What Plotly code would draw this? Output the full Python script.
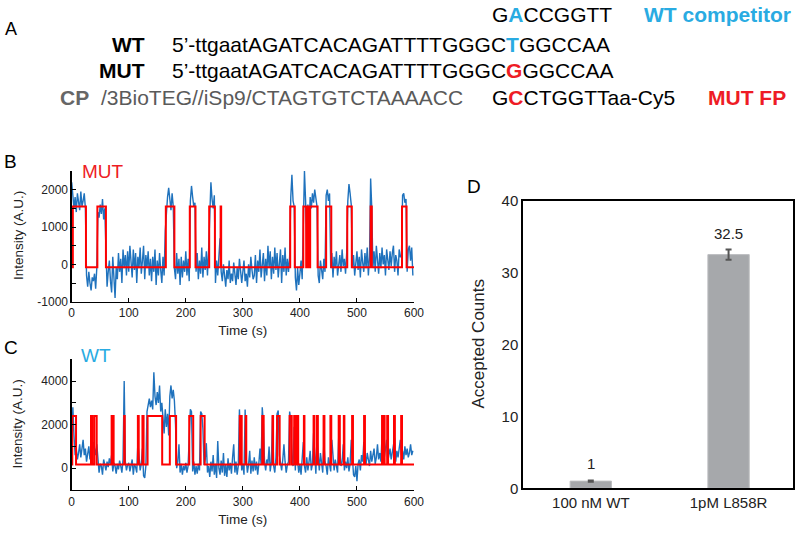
import plotly.graph_objects as go

# ---------------- data ----------------
FRAME_STEP_S = 2.0

mut_signal = [
    2200, 1700, 1500, 1800, 1400, 1900, 1600, 1450, 1950, 1550,
    1700, 1900, 1500, -300, -600, -200, -500, -700, -350, -450,
    -250, -650, -100, 1400, 1250, 1600, 1350, 1750, 1200, 1500,
    400, -600, -200, 100, -450, -750, 200, -300, -900, -100,
    -400, 300, -200, 150, -500, 400, -100, 250, -300, 350,
    -200, 500, 50, -350, 400, -150, 300, -500, 200, -100,
    450, -250, 100, 500, -400, 250, -100, 350, -300, 150,
    -450, 200, -200, 400, -550, 100, -300, 300, -150, -500,
    200, -300, 900, 1500, 1800, 2050, 1700, 1450, 1900, 1550,
    -100, -400, 300, -250, 150, -550, 200, -350, 100, -200,
    350, -300, 150, -450, 1700, 2100, 1800, 1550, 1650, -200,
    300, -400, 100, -250, 450, -350, 200, -150, 350, -300,
    400, 1600, 2200, 1750, 1500, 1850, -500, 100, -300, 200,
    700, -200, -450, 0, -350, -600, -150, -400, 100, -500,
    -250, -450, 50, -350, -550, -100, -400, 150, -300, -500,
    -200, 100, -450, -250, -600, 0, -350, 200, -150, -400,
    -300, 250, -500, 100, -200, 400, -350, 50, 300, -450,
    150, -300, 500, -100, 350, -400, 200, -250, 450, -150,
    300, -350, 100, 400, -500, 250, -200, 450, -300, 150,
    -200, 200, 1800, 2400, 1700, 1550, -350, -700, -100, -550,
    -250, 100, -400, 1400, 2500, 1700, 400, 1600, 900, 1800,
    1500, 1900, 1650, 2000, 1750, 1550, -300, -500, 100, -250,
    -400, 150, -200, 1850, 2000, 1700, 1900, -100, 300, -350,
    200, -100, 350, -300, 100, 250, -200, 400, -50, 150,
    -250, 300, 1700, 2150, 1900, 1600, -100, 250, -300, 100,
    350, -150, 200, -350, 400, 50, -200, 300, -100, 450,
    -300, 200, 2300, 1500, -100, 350, -200, 500, 100, -250,
    300, -100, 450, 0, 250, -300, 400, 150, -150, 350,
    -50, 300, 500, -200, 250, 100, -300, 400, 200, 200,
    1850, 1900, 1650, 1750, -200, 400, 500, 100, 450, -300,
]
mut_events = [(2, 25), (45, 60), (165, 180), (207, 217), (241, 251), (261, 262),
              (383, 391), (406, 411), (413, 416), (418, 431), (446, 455),
              (483, 491), (524, 526), (579, 587)]
mut_low, mut_high = -80, 1550

wt_signal = [
    300, 2800, 1500, 600, 900, 400, 700, 1100, 500, 800,
    1300, 600, 900, 300, 700, 1000, 400, 800, 500, 1200,
    900, 600, 1100, 300, -200, 200, 100, -300, 400, 150,
    -100, 300, 50, 450, 200, 600, -150, 250, 100, -250,
    200, -50, 350, 100, -200, 400, 4000, 300, -100, 150,
    250, -150, 100, 400, -300, 200, 50, -200, 1200, 300,
    -100, 200, 900, -350, -450, 100, 2600, 2900, 3200, 2800,
    3100, 2700, 4400, 3300, 2900, 3500, 3000, 3800, 2600, 3000,
    2200, 1600, 2700, 1900, 2500, 1500, 3300, 3800, 3200, 3600,
    3100, 2000, 0, 300, 1100, -200, 200, -300, 100, -100,
    250, -200, 100, 2000, 2700, 2600, -150, 300, -300, 100,
    -250, 200, -100, 2600, 2500, 1800, 150, 400, 1150, -200,
    100, -400, 300, -150, 600, -300, 200, -450, 1250, 0,
    -300, 350, -200, 700, -350, 150, -400, 450, -100, 250,
    -250, 500, 1100, -200, 300, -300, 100, 2700, 1500, -100,
    200, -300, 2700, 400, -200, 150, 800, -250, 350, -150,
    500, -100, 300, -300, 200, 900, 150, 2800, 2000, 300,
    -100, 400, 200, 1000, -150, 300, 2400, 100, -200, 500,
    2500, 2650, 600, 200, -100, 400, 1100, 300, -200, 150,
    300, 2600, 2200, 500, 100, 1900, -100, 2000, 300, -200,
    200, -300, 400, 1200, 100, -200, 500, -100, 300, 800,
    -100, 200, 1600, 300, -250, 1400, 400, -100, 700, 200,
    -200, 1200, 300, 100, -300, 500, 200, -150, 1300, 300,
    -100, 400, 150, -200, 1400, 900, 100, 300, 1100, -100,
    300, 0, 500, -150, 200, 1300, 400, -300, -400, 100,
    -600, 200, 400, -100, 600, 300, 1200, 500, 200, 700,
    400, 100, 800, 300, 600, 900, 200, 500, 1100, 400,
    700, 300, 1500, 1700, 500, 800, 1300, 300, 600, 900,
    400, 700, 1000, 1400, 300, 800, 500, 1000, 1300, 600,
    800, 400, 1000, 600, 900, 500, 700, 1100, 600, 800,
]
wt_events = [(1, 7.6), (33.8, 36), (39.6, 43.8), (70, 73.5), (92, 93), (116, 117.5),
             (124, 126), (133, 158.6), (172, 183), (206, 213), (226, 233),
             (294.6, 298), (305, 306), (334, 336.5), (352, 353), (360, 364.5),
             (382, 385.7), (390, 392), (395, 397), (407, 408), (424, 425.5),
             (430, 431.5), (441.5, 443), (453.5, 455), (468, 470), (477, 478),
             (491.5, 493), (512.5, 514), (544, 545.5), (547, 548.5), (553, 554.5),
             (565, 566.5), (577.5, 579)]
wt_low, wt_high = 170, 2400
trace_end_s = 600

bar_categories = ["100 nM WT", "1pM L858R"]
bar_values = [1, 32.5]
bar_errors = [0.1, 0.7]
bar_labels = ["1", "32.5"]

# ---------------- helpers ----------------
def frame_times(n):
    return [i * FRAME_STEP_S for i in range(n)]

def step_line(events, low, high, t_end):
    xs, ys = [0], [low]
    for s, e in events:
        xs += [s, s, e, e]
        ys += [low, high, high, low]
    xs.append(t_end)
    ys.append(low)
    return xs, ys

BLUE = "#1f72bd"
RED = "#ff0000"
TXT_RED = "#ee1c25"
CYAN = "#29abe2"
FONT = "Liberation Sans, Arial, Helvetica, sans-serif"

fig = go.Figure()

# Panel B
fig.add_trace(go.Scatter(x=frame_times(len(mut_signal)), y=mut_signal, mode="lines",
                         line=dict(color=BLUE, width=1.4), xaxis="x", yaxis="y",
                         showlegend=False))
mx, my = step_line(mut_events, mut_low, mut_high, trace_end_s)
fig.add_trace(go.Scatter(x=mx, y=my, mode="lines", line=dict(color=RED, width=2),
                         xaxis="x", yaxis="y", showlegend=False))
# Panel C
fig.add_trace(go.Scatter(x=frame_times(len(wt_signal)), y=wt_signal, mode="lines",
                         line=dict(color=BLUE, width=1.4), xaxis="x2", yaxis="y2",
                         showlegend=False))
wx, wy = step_line(wt_events, wt_low, wt_high, trace_end_s)
fig.add_trace(go.Scatter(x=wx, y=wy, mode="lines", line=dict(color=RED, width=2),
                         xaxis="x2", yaxis="y2", showlegend=False))
# Panel D
fig.add_trace(go.Bar(x=[0, 1], y=bar_values, width=0.3,
                     marker=dict(color="#a6a8ab", line=dict(color="#bdbec0", width=1)),
                     error_y=dict(type="data", array=bar_errors, color="#555555",
                                  thickness=2, width=3),
                     xaxis="x3", yaxis="y3", showlegend=False))

def px_x(p):
    return p / 800.0

def px_y(p):
    return 1 - p / 533.0

trace_x = dict(range=[0, 600], tickvals=[0, 100, 200, 300, 400, 500, 600],
               ticks="inside", ticklen=4, tickwidth=1, tickcolor="black",
               showline=True, linecolor="black", linewidth=1.3, showgrid=False,
               zeroline=False, automargin=False, tickfont=dict(size=12, color="#222"),
               title=dict(text="Time (s)", font=dict(size=13.5, color="#222"), standoff=6))
layout_axes = dict(
    xaxis=dict(domain=[px_x(71.7), px_x(414)], anchor="y", **trace_x),
    yaxis=dict(domain=[px_y(301.7), px_y(171)], anchor="x", range=[-1000, 2500],
               tickvals=[-1000, -500, 0, 500, 1000, 1500, 2000, 2500],
               ticktext=["-1000", "", "0", "", "1000", "", "2000", ""],
               ticks="inside", ticklen=4, tickcolor="black", showline=True,
               linecolor="black", linewidth=1.3, showgrid=False, zeroline=False,
               automargin=False, tickfont=dict(size=12, color="#222")),
    xaxis2=dict(domain=[px_x(71.7), px_x(414)], anchor="y2", **trace_x),
    yaxis2=dict(domain=[px_y(490), px_y(359.3)], anchor="x2", range=[-1000, 5000],
                tickvals=[-1000, 0, 1000, 2000, 3000, 4000, 5000],
                ticktext=["", "0", "", "2000", "", "4000", ""],
                ticks="inside", ticklen=4, tickcolor="black", showline=True,
                linecolor="black", linewidth=1.3, showgrid=False, zeroline=False,
                automargin=False, tickfont=dict(size=12, color="#222")),
    xaxis3=dict(domain=[px_x(523.3), px_x(793.3)], anchor="y3", range=[-0.49, 1.47],
                tickvals=[0, 1], ticktext=bar_categories, ticks="", showline=True,
                mirror=True, linecolor="black", linewidth=2, showgrid=False,
                zeroline=False, automargin=False, tickfont=dict(size=15, color="#222")),
    yaxis3=dict(domain=[px_y(488.3), px_y(200.7)], anchor="x3", range=[0, 40],
                tickvals=[0, 10, 20, 30, 40], ticks="", showline=True, mirror=True,
                linecolor="black", linewidth=2, showgrid=False, zeroline=False,
                automargin=False, tickfont=dict(size=15, color="#222")),
)

ann = []
def text(x, y, s, size, color="black", xanchor="left", bold=False, angle=0):
    if bold:
        s = "<b>" + s + "</b>"
    ann.append(dict(x=px_x(x), y=px_y(y), xref="paper", yref="paper", text=s,
                    showarrow=False, xanchor=xanchor, yanchor="middle",
                    font=dict(size=size, color=color, family=FONT), textangle=angle))

def c(s, col):
    return f"<span style='color:{col}'><b>{s}</b></span>"

# Panel A
text(3, 29, "A", 18)
text(490, 14.5, "G" + c("A", CYAN) + "CCGGTT", 21)
text(642, 14.5, "WT competitor", 21, CYAN, bold=True)
text(147, 44, "WT", 21, xanchor="right", bold=True)
text(170, 44, "5’-ttgaatAGATCACAGATTTTGGGC" + c("T", CYAN) + "GGCCAA", 21)
text(147, 70.5, "MUT", 21, xanchor="right", bold=True)
text(170, 70.5, "5’-ttgaatAGATCACAGATTTTGGGC" + c("G", TXT_RED) + "GGCCAA", 21)
text(58, 97, "CP", 21, "#666666", bold=True)
text(99, 97, "/3BioTEG//iSp9/CTAGTGTCTAAAACC", 21, "#5a5a5a")
text(490, 97, "G" + c("C", TXT_RED) + "CTGGTTaa-Cy5", 21)
text(706, 97, "MUT FP", 21, TXT_RED, bold=True)

# Panel labels
text(2, 161, "B", 19)
text(80, 171.5, "MUT", 19, TXT_RED)
text(18, 236, "Intensity (A.U.)", 13.5, "#222", xanchor="center", angle=-90)
text(2, 347, "C", 19)
text(79, 355, "WT", 19, CYAN)
text(18, 424.6, "Intensity (A.U.)", 13.5, "#222", xanchor="center", angle=-90)
text(465, 186, "D", 19)
text(478, 344.5, "Accepted Counts", 17, "#222", xanchor="center", angle=-90)

for i, (v, e, lab) in enumerate(zip(bar_values, bar_errors, bar_labels)):
    ann.append(dict(x=i, y=v + e, xref="x3", yref="y3", text=lab, showarrow=False,
                    yanchor="bottom", yshift=6, font=dict(size=15, color="#222", family=FONT)))

fig.update_layout(
    width=800, height=533, margin=dict(l=0, r=0, t=0, b=0, autoexpand=False),
    paper_bgcolor="white", plot_bgcolor="white",
    font=dict(family=FONT, color="#222"),
    annotations=ann, showlegend=False, bargap=0,
    **layout_axes,
)

fig.write_html("out.html", config={"displayModeBar": False, "staticPlot": True},
               post_script="document.body.style.margin='0';document.body.style.overflow='hidden';")
